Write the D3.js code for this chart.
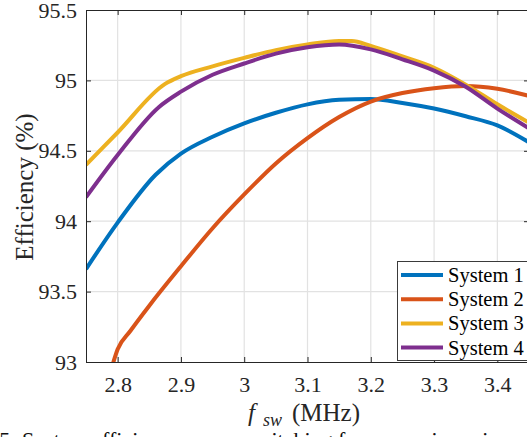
<!DOCTYPE html>
<html>
<head>
<meta charset="utf-8">
<script src="https://cdn.jsdelivr.net/npm/d3@7"></script>
</head>
<body style="margin:0">
<svg id="chart" width="527" height="437"></svg>
<script>
// Switching frequency (MHz) and efficiency (%) for each system
const freqS1 = [2.75, 2.80, 2.86, 2.90, 2.95, 3.00, 3.05, 3.10, 3.15, 3.20, 3.25, 3.30, 3.35, 3.40, 3.45];
const effS1  = [93.66, 93.99, 94.33, 94.48, 94.60, 94.695, 94.77, 94.83, 94.862, 94.868, 94.84, 94.80, 94.745, 94.68, 94.56];

const freqS2 = [2.792, 2.80, 2.82, 2.85, 2.90, 2.95, 3.00, 3.05, 3.10, 3.15, 3.20, 3.25, 3.30, 3.35, 3.40, 3.45];
const effS2  = [92.98, 93.09, 93.22, 93.40, 93.68, 93.95, 94.19, 94.41, 94.59, 94.74, 94.85, 94.91, 94.945, 94.96, 94.94, 94.89];

const freqS3 = [2.75, 2.80, 2.875, 2.90, 2.95, 3.00, 3.05, 3.10, 3.15, 3.17, 3.20, 3.25, 3.30, 3.35, 3.40, 3.45];
const effS3  = [94.40, 94.63, 94.975, 95.03, 95.10, 95.16, 95.215, 95.255, 95.28, 95.28, 95.245, 95.17, 95.09, 94.97, 94.83, 94.70];

const freqS4 = [2.75, 2.80, 2.865, 2.90, 2.95, 3.00, 3.05, 3.10, 3.15, 3.20, 3.25, 3.30, 3.35, 3.40, 3.45];
const effS4  = [94.17, 94.47, 94.81, 94.92, 95.04, 95.12, 95.19, 95.235, 95.255, 95.22, 95.15, 95.07, 94.955, 94.80, 94.66];

const seriesNames  = ["System 1", "System 2", "System 3", "System 4"];
const seriesColors = ["#0072BD", "#D95319", "#EDB120", "#7E2F8E"];

const xTicks = [2.8, 2.9, 3.0, 3.1, 3.2, 3.3, 3.4];
const yTicks = [93, 93.5, 94, 94.5, 95, 95.5];
const xDomain = [2.75, 3.45];
const yDomain = [93, 95.5];

const series = [
  { name: seriesNames[0], color: seriesColors[0], pts: freqS1.map((f, i) => [f, effS1[i]]) },
  { name: seriesNames[1], color: seriesColors[1], pts: freqS2.map((f, i) => [f, effS2[i]]) },
  { name: seriesNames[2], color: seriesColors[2], pts: freqS3.map((f, i) => [f, effS3[i]]) },
  { name: seriesNames[3], color: seriesColors[3], pts: freqS4.map((f, i) => [f, effS4[i]]) }
];

const SERIF = "Liberation Serif";
const svg = d3.select("#chart");
const plot = { left: 86, top: 10, right: 529, bottom: 362 };
const ink = "#262626";

const x = d3.scaleLinear().domain(xDomain).range([plot.left, plot.right]);
const y = d3.scaleLinear().domain(yDomain).range([plot.bottom, plot.top]);

// serif face set inline with top priority on each text element
function serif(sel) {
  return sel.attr("font-family", SERIF).style("font-family", `"${SERIF}"`, "important");
}

// grid
const grid = svg.append("g").attr("stroke", "#e2e2e2").attr("stroke-width", 1.2);
grid.selectAll("line.gx").data(xTicks).join("line")
  .attr("x1", d => x(d)).attr("x2", d => x(d))
  .attr("y1", plot.top).attr("y2", plot.bottom);
grid.selectAll("line.gy").data(yTicks.filter(v => v > yDomain[0] && v < yDomain[1])).join("line")
  .attr("x1", plot.left).attr("x2", plot.right)
  .attr("y1", d => y(d)).attr("y2", d => y(d));

// curves
svg.append("defs").append("clipPath").attr("id", "plotClip")
  .append("rect")
  .attr("x", plot.left).attr("y", plot.top)
  .attr("width", plot.right - plot.left).attr("height", plot.bottom - plot.top);

const line = d3.line().x(d => x(d[0])).y(d => y(d[1])).curve(d3.curveMonotoneX);
svg.append("g").attr("clip-path", "url(#plotClip)")
  .selectAll("path").data(series).join("path")
  .attr("d", d => line(d.pts))
  .attr("fill", "none")
  .attr("stroke", d => d.color)
  .attr("stroke-width", 4)
  .attr("stroke-linejoin", "round");

// axes (ticks pointing inward on all four sides)
function styleAxis(g) {
  g.attr("font-family", SERIF).attr("font-size", 22);
  g.selectAll("path.domain").attr("stroke", ink).attr("stroke-width", 1);
  g.selectAll(".tick line").attr("stroke", ink).attr("stroke-width", 1);
  g.selectAll(".tick text").attr("fill", ink).attr("font-size", 22).call(serif);
}

svg.append("g").attr("transform", `translate(0,${plot.bottom})`)
  .call(d3.axisBottom(x).tickValues(xTicks).tickFormat(d3.format("~g")).tickSize(-5).tickSizeOuter(0).tickPadding(14))
  .call(styleAxis);
svg.append("g").attr("transform", `translate(0,${plot.top})`)
  .call(d3.axisTop(x).tickValues(xTicks).tickFormat("").tickSize(-5).tickSizeOuter(0))
  .call(styleAxis);
svg.append("g").attr("transform", `translate(${plot.left},0)`)
  .call(d3.axisLeft(y).tickValues(yTicks).tickFormat(d3.format("~g")).tickSize(-5).tickSizeOuter(0).tickPadding(9))
  .call(styleAxis);
svg.append("g").attr("transform", `translate(${plot.right},0)`)
  .call(d3.axisRight(y).tickValues(yTicks).tickFormat("").tickSize(-5).tickSizeOuter(0))
  .call(styleAxis);

// axis titles
svg.append("text")
  .attr("transform", `translate(33,${(plot.top + plot.bottom) / 2 + 1}) rotate(-90)`)
  .attr("text-anchor", "middle")
  .attr("fill", ink)
  .attr("font-size", 25)
  .call(serif)
  .text("Efficiency (%)");

// x title: italic f with italic subscript "sw", then the unit
svg.append("text")
  .attr("x", 248).attr("y", 421)
  .attr("fill", ink).attr("font-size", 25).attr("font-style", "italic")
  .call(serif)
  .text("f");
svg.append("text")
  .attr("x", 263).attr("y", 426)
  .attr("fill", ink).attr("font-size", 18).attr("font-style", "italic")
  .call(serif)
  .text("sw");
svg.append("text")
  .attr("x", 292).attr("y", 421)
  .attr("fill", ink).attr("font-size", 25)
  .call(serif)
  .text("(MHz)");

// legend
const lg = svg.append("g").attr("transform", "translate(397,261)");
lg.append("rect")
  .attr("x", 0.5).attr("y", 0.5).attr("width", 160).attr("height", 99)
  .attr("fill", "#fff").attr("stroke", "#3a3a3a").attr("stroke-width", 1);
const rows = lg.selectAll("g.row").data(series).join("g")
  .attr("transform", (d, i) => `translate(0,${14 + i * 24.2})`);
rows.append("line")
  .attr("x1", 4).attr("x2", 46).attr("y1", 0).attr("y2", 0)
  .attr("stroke", d => d.color).attr("stroke-width", 4);
rows.append("text")
  .attr("x", 51).attr("y", 7)
  .attr("fill", "#000")
  .attr("font-size", 20.5)
  .call(serif)
  .text(d => d.name);

// figure caption
svg.append("text")
  .attr("x", -41).attr("y", 447)
  .attr("fill", "#111")
  .attr("font-size", 22)
  .call(serif)
  .text("Fig. 5: System efficiency versus switching frequency in various systems.");
</script>
</body>
</html>
